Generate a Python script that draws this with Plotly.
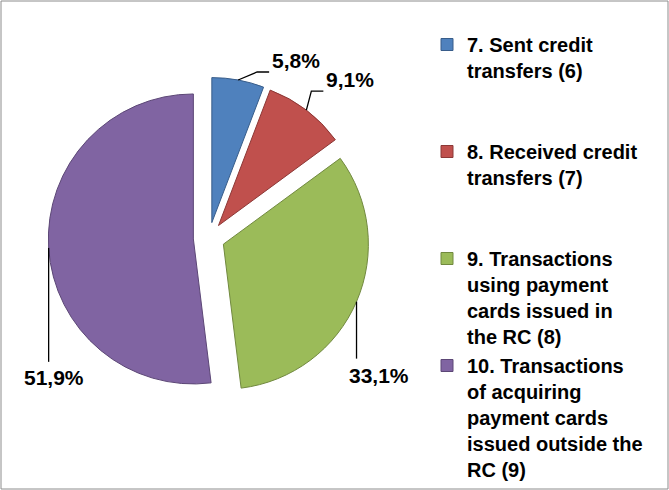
import math
import plotly.graph_objects as go

categories = [
    "7. Sent credit<br>transfers (6)<br> <br> ",
    "8. Received credit<br>transfers (7)<br> <br> ",
    "9. Transactions<br>using payment<br>cards issued in<br>the RC (8)",
    "10. Transactions<br>of acquiring<br>payment cards<br>issued outside the<br>RC (9)",
]
shares = [5.8, 9.1, 33.1, 51.9]
pct_labels = [f"{v:.1f}%".replace(".", ",") for v in shares]

fill_colors = ["#4F81BD", "#C0504D", "#9BBB59", "#8064A2"]
edge_colors = ["#385D8A", "#8C3836", "#71893F", "#5C4776"]

W, H = 669, 490
FONT = "Liberation Sans, Arial, sans-serif"

# pie placement (pixels)
PULL = 0.108
CX, CY, R = 209.0, 238.0, 145.0
HALF = R * (1 + PULL)

# leader-line geometry per slice: elbow offsets from arc midpoint (pixels), label anchor
leader_offsets = [
    [(19, -8), (31, -8)],
    [(5, -19), (17, -19)],
    [(0, 57)],
    [(0, 114)],
]
label_offsets = [(33, -7), (19, -18), (22, 61), (5, 117)]
label_anchor = [("left", "bottom"), ("left", "bottom"), ("center", "top"), ("center", "top")]


def px(x):
    return x / W


def py(y):
    return 1 - y / H


fig = go.Figure(
    go.Pie(
        labels=categories,
        values=shares,
        textinfo="none",
        sort=False,
        direction="clockwise",
        rotation=0,
        pull=[PULL] * len(shares),
        marker=dict(colors=fill_colors, line=dict(color=edge_colors, width=1)),
        domain=dict(x=[px(CX - HALF), px(CX + HALF)], y=[py(CY + HALF), py(CY - HALF)]),
        hoverinfo="none",
    )
)

shapes = [
    dict(type="rect", xref="paper", yref="paper",
         x0=px(1), x1=px(W - 1), y0=py(H - 1), y1=py(1),
         line=dict(color="#8C8C8C", width=1), layer="above")
]
annotations = []
total = sum(shares)
cum = 0.0
for i, v in enumerate(shares):
    mid = (cum + v / 2) / total * 2 * math.pi
    cum += v
    dx, dy = math.sin(mid), -math.cos(mid)
    ax = CX + (1 + PULL) * R * dx
    ay = CY + (1 + PULL) * R * dy
    pts = [(ax, ay)] + [(ax + ox, ay + oy) for ox, oy in leader_offsets[i]]
    path = "M " + " L ".join(f"{px(x):.5f},{py(y):.5f}" for x, y in pts)
    shapes.append(dict(type="path", xref="paper", yref="paper", path=path,
                       line=dict(color="black", width=1.3)))
    lx, ly = label_offsets[i]
    annotations.append(dict(
        xref="paper", yref="paper", x=px(ax + lx), y=py(ay + ly),
        xanchor=label_anchor[i][0], yanchor=label_anchor[i][1],
        text=pct_labels[i], showarrow=False,
        font=dict(family=FONT, size=21, color="black", weight="bold"),
        borderpad=0,
    ))

fig.update_layout(
    width=W,
    height=H,
    margin=dict(l=0, r=0, t=0, b=0, autoexpand=False),
    paper_bgcolor="white",
    plot_bgcolor="white",
    showlegend=True,
    legend=dict(
        x=427 / W,
        y=1 - 25 / H,
        xanchor="left",
        yanchor="top",
        valign="top",
        traceorder="normal",
        font=dict(family=FONT, size=20, color="black", weight="bold"),
        bgcolor="rgba(0,0,0,0)",
        itemclick=False,
    ),
    shapes=shapes,
    annotations=annotations,
)

fig.write_html(
    "out.html",
    config={"displayModeBar": False},
    post_script="document.body.style.margin='0';document.body.style.overflow='hidden';",
)
